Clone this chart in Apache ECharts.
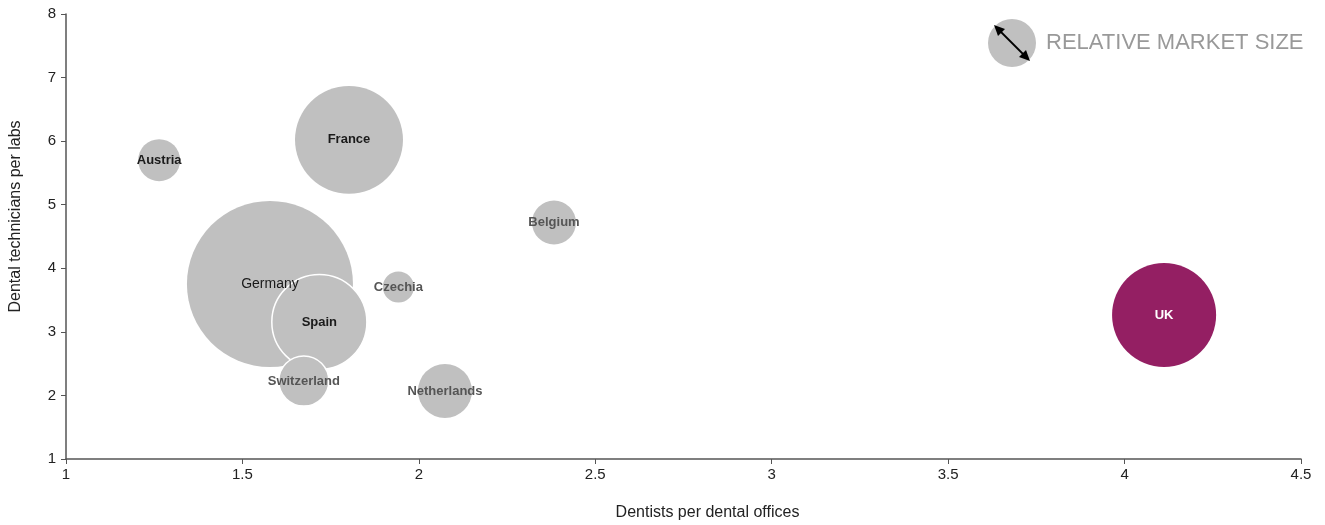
<!DOCTYPE html>
<html>
<head>
<meta charset="utf-8">
<script src="https://cdn.jsdelivr.net/npm/echarts@6/dist/echarts.min.js"></script>
<style>
html,body{margin:0;padding:0;background:#fff;}
#chart{width:1325px;height:525px;}
</style>
</head>
<body>
<div id="chart"></div>
<script>
const countries = ['Germany','Austria','France','Belgium','Czechia','Netherlands','Spain','Switzerland','UK'];
const dentistsPerOffice = [1.578, 1.264, 1.802, 2.383, 1.942, 2.074, 1.718, 1.674, 4.112];
const techniciansPerLab = [3.753, 5.70, 6.02, 4.72, 3.705, 2.07, 3.155, 2.227, 3.265];
const marketSize = [100, 6.4, 42.3, 7.0, 3.5, 10.6, 32.8, 9.1, 39.3];
const xTicks = [1, 1.5, 2, 2.5, 3, 3.5, 4, 4.5];
const yTicks = [1, 2, 3, 4, 5, 6, 7, 8];

const GRAY = '#c0c0c0';
const UKCOL = '#941f63';
const labelStyle = {
  Germany: {color:'#1a1a1a', fontWeight:'normal', fontSize:14},
  Austria: {color:'#1a1a1a', fontWeight:'bold', fontSize:13},
  France: {color:'#1a1a1a', fontWeight:'bold', fontSize:13},
  Spain: {color:'#1a1a1a', fontWeight:'bold', fontSize:13},
  Belgium: {color:'#555555', fontWeight:'bold', fontSize:13},
  Czechia: {color:'#555555', fontWeight:'bold', fontSize:13},
  Netherlands: {color:'#555555', fontWeight:'bold', fontSize:13},
  Switzerland: {color:'#555555', fontWeight:'bold', fontSize:13},
  UK: {color:'#ffffff', fontWeight:'bold', fontSize:13}
};
const bordered = {Spain:true, Switzerland:true};

const data = countries.map((c,i)=>({
  name: c,
  value: [dentistsPerOffice[i], techniciansPerLab[i], marketSize[i]],
  itemStyle: {
    color: c==='UK' ? UKCOL : GRAY,
    borderColor: '#ffffff',
    borderWidth: bordered[c] ? 1.5 : 0,
    opacity: 1
  },
  label: Object.assign({show:true, position:'inside', formatter: c, fontFamily:'"Liberation Sans",Arial,sans-serif', padding:[2,0,0,0]}, labelStyle[c])
}));

const chart = echarts.init(document.getElementById('chart'), null, {renderer:'canvas'});
const axisFont = '"Liberation Sans",Arial,sans-serif';
chart.setOption({
  animation:false,
  backgroundColor:'#ffffff',
  grid:{left:66, right:24, top:14, bottom:66, containLabel:false, outerBoundsMode:'none'},
  xAxis:{
    type:'value', min:1, max:4.5, interval:0.5,
    name:'Dentists per dental offices', nameLocation:'middle', nameGap:46,
    nameTextStyle:{color:'#222', fontSize:16, fontFamily:axisFont, padding:[0,0,0,48]},
    axisLine:{show:true, lineStyle:{color:'#555', width:1.5}},
    axisTick:{show:true, length:5, lineStyle:{color:'#555'}},
    axisLabel:{color:'#222', fontSize:15, fontFamily:axisFont, margin:8, formatter:v=>String(v)},
    splitLine:{show:false}
  },
  yAxis:{
    type:'value', min:1, max:8, interval:1,
    name:'Dental technicians per labs', nameLocation:'middle', nameGap:42,
    nameTextStyle:{color:'#222', fontSize:16, fontFamily:axisFont, padding:[0,0,0,40]},
    axisLine:{show:true, lineStyle:{color:'#555', width:1.5}},
    axisTick:{show:true, length:5, lineStyle:{color:'#555'}},
    axisLabel:{color:'#222', fontSize:15, fontFamily:axisFont, margin:10},
    splitLine:{show:false}
  },
  series:[{
    type:'scatter',
    data:data,
    symbol:'circle',
    symbolSize: v => Math.sqrt(v[2]) * 16.6,
    emphasis:{disabled:true},
    labelLayout:{hideOverlap:false}
  }],
  graphic:[
    {type:'circle', shape:{cx:1012, cy:43, r:24}, style:{fill:GRAY}},
    {type:'line', shape:{x1:998, y1:29, x2:1026, y2:57}, style:{stroke:'#000', lineWidth:1.8}},
    {type:'polygon', shape:{points:[[994,25],[1005,29],[998,36]]}, style:{fill:'#000'}},
    {type:'polygon', shape:{points:[[1030,61],[1019,57],[1026,50]]}, style:{fill:'#000'}},
    {type:'text', left:1046, top:32, style:{text:'RELATIVE MARKET SIZE', fill:'#999999', font:'22px "Liberation Sans",Arial,sans-serif'}}
  ]
});
</script>
</body>
</html>
